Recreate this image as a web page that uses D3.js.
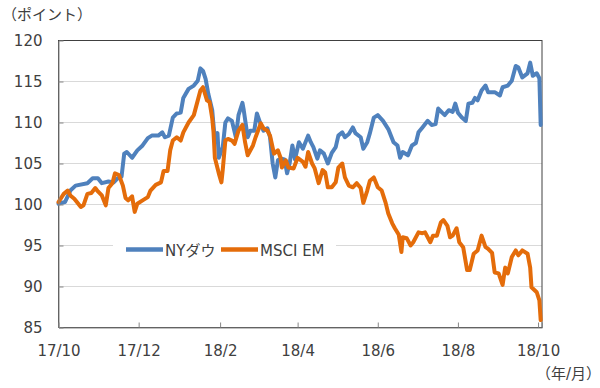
<!DOCTYPE html>
<html>
<head>
  <meta charset="utf-8">
  <title>NYダウ と MSCI EM</title>
  <script src="https://d3js.org/d3.v7.min.js"></script>
  <style>
    body { margin: 0; background: #fff; }
    text { font-family: "DejaVu Sans", "Noto Sans CJK JP", sans-serif; fill: #404040; }
    .grid line { stroke: #d9d9d9; stroke-width: 1px; }
    .series { fill: none; stroke-width: 4px; stroke-linejoin: round; stroke-linecap: round; }
  </style>
</head>
<body>
<script>
  const width = 600;
  const height = 388;

  // index values, 2017/10 start = 100; x given as days after 2017-10-01
  const dowDays = [0, 5, 9, 13, 22, 26, 30, 33, 38, 42, 45, 48, 50, 52, 56, 60, 64, 68, 71, 76,
    79, 81, 84, 87, 90, 93, 95, 99, 103, 106, 108, 110, 112, 114, 117, 119, 121, 122, 125, 127,
    129, 132, 135, 137, 140, 141, 144, 146, 149, 151, 154, 156, 159, 161, 163, 165, 167, 169, 172, 174,
    176, 178, 180, 183, 186, 190, 192, 194, 197, 199, 202, 205, 208, 211, 213, 216, 218, 221, 224, 226,
    230, 232, 235, 237, 240, 243, 247, 251, 255, 258, 260, 262, 266, 269, 272, 274, 277, 281, 284, 287,
    289, 292, 294, 297, 300, 302, 304, 307, 310, 312, 315, 317, 319, 322, 325, 327, 332, 336, 338, 342,
    345, 348, 350, 353, 357, 359, 361, 364, 366, 367];
  const dowValues = [100.1, 100.3, 101.7, 102.3, 102.6, 103.2, 103.2, 102.6, 102.8, 102.7, 103.2, 103.4, 106.2, 106.4, 105.7, 106.6, 107.2, 108.1, 108.4, 108.4,
    108.8, 108.2, 108.4, 110.6, 111.1, 111.2, 113.0, 114.1, 114.5, 115.1, 116.6, 116.3, 115.3, 113.5, 111.5, 107.8, 108.7, 105.7, 107.0, 110.0,
    110.5, 110.2, 108.2, 110.9, 112.4, 111.5, 108.2, 109.0, 109.0, 111.1, 109.7, 109.0, 109.3, 108.2, 105.0, 103.3, 105.4, 105.6, 105.5, 103.8,
    105.1, 107.2, 105.5, 107.6, 106.8, 108.4, 107.6, 107.0, 105.6, 106.6, 106.2, 105.0, 106.3, 107.0, 108.4, 108.8, 108.2, 108.6, 109.4, 108.7,
    108.2, 106.8, 107.6, 108.7, 110.6, 110.9, 110.2, 109.2, 107.6, 107.2, 105.7, 106.4, 106.0, 107.2, 107.5, 108.8, 109.4, 110.2, 109.7, 109.8,
    111.7, 111.2, 110.9, 111.5, 111.3, 112.3, 111.2, 110.6, 110.2, 112.3, 112.4, 113.0, 112.7, 113.9, 114.5, 113.7, 113.7, 113.3, 114.3, 114.5,
    115.1, 116.9, 116.7, 115.5, 116.0, 117.3, 115.7, 116.0, 115.4, 109.7];

  const emDays = [0, 4, 7, 9, 12, 14, 17, 19, 22, 25, 28, 30, 33, 36, 38, 41, 43, 46, 49, 51,
    53, 56, 58, 60, 64, 68, 70, 74, 78, 80, 83, 85, 87, 90, 93, 95, 99, 103, 106, 108,
    110, 113, 115, 117, 118, 119, 122, 124, 125, 127, 129, 132, 134, 137, 140, 142, 144, 148, 150, 154,
    156, 159, 161, 164, 167, 169, 170, 173, 175, 179, 182, 186, 188, 190, 193, 195, 198, 201, 203, 205,
    208, 211, 213, 216, 218, 221, 224, 227, 230, 232, 235, 237, 240, 243, 246, 249, 251, 254, 256, 259,
    261, 262, 265, 268, 270, 274, 277, 279, 283, 285, 288, 291, 293, 296, 298, 300, 303, 305, 308, 311,
    313, 316, 319, 322, 325, 327, 330, 332, 335, 338, 340, 342, 345, 348, 350, 353, 357, 359, 360, 364,
    366, 367];
  const emValues = [100.3, 101.3, 101.7, 101.1, 100.7, 100.3, 99.7, 99.9, 101.3, 101.4, 102.0, 101.6, 101.1, 99.9, 102.0, 102.6, 103.8, 103.6, 102.3, 100.8,
    100.5, 101.0, 99.1, 100.1, 100.5, 100.9, 101.7, 102.4, 102.7, 104.1, 104.1, 106.6, 107.8, 108.2, 107.8, 108.8, 110.0, 110.9, 112.7, 113.9,
    114.3, 112.7, 112.5, 110.5, 108.8, 105.7, 103.8, 102.7, 104.2, 107.8, 108.0, 107.8, 107.4, 109.0, 109.7, 107.6, 106.0, 107.2, 108.2, 109.9,
    109.3, 109.0, 108.4, 106.2, 106.6, 105.7, 104.5, 105.4, 104.5, 104.4, 105.7, 105.2, 104.6, 106.4, 105.0, 104.4, 102.6, 104.2, 103.9, 102.1,
    102.1, 102.7, 104.5, 105.0, 103.3, 102.3, 102.1, 102.6, 102.0, 100.2, 101.7, 102.9, 103.3, 102.1, 101.7, 100.2, 98.9, 97.7, 97.1, 96.3,
    94.2, 96.0, 95.9, 95.0, 95.4, 96.6, 96.5, 96.6, 95.4, 96.2, 96.2, 97.8, 98.1, 97.4, 96.0, 96.2, 97.1, 95.4, 94.8, 92.0,
    92.0, 94.0, 94.4, 96.2, 94.8, 94.6, 94.1, 91.7, 91.6, 90.2, 92.3, 91.6, 93.6, 94.4, 93.8, 94.4, 94.0, 92.3, 89.9, 89.3,
    88.3, 85.9];

  const seriesNames = ["NYダウ", "MSCI EM"];
  const seriesColors = ["#4f81bd", "#e46c0a"];

  const yTicks = [85, 90, 95, 100, 105, 110, 115, 120];
  const xTickDates = ["2017-10-01", "2017-12-01", "2018-02-01", "2018-04-01", "2018-06-01", "2018-08-01", "2018-10-01"];
  const xTickLabels = ["17/10", "17/12", "18/2", "18/4", "18/6", "18/8", "18/10"];

  const startDate = new Date(2017, 9, 1);
  const endDate = d3.timeDay.offset(startDate, 368);
  const parse = d3.timeParse("%Y-%m-%d");

  const svg = d3.select("body")
    .append("svg")
    .attr("width", width)
    .attr("height", height);

  const x = d3.scaleTime().domain([startDate, endDate]).range([58.5, 542]);
  const y = d3.scaleLinear().domain([85, 120]).range([327.5, 40.5]);

  // grid
  svg.append("g")
    .attr("class", "grid")
    .selectAll("line")
    .data(yTicks)
    .join("line")
    .attr("x1", x.range()[0])
    .attr("x2", x.range()[1])
    .attr("y1", d => y(d))
    .attr("y2", d => y(d));

  // plot border (top/right)
  svg.append("rect")
    .attr("x", x.range()[0])
    .attr("y", y.range()[1])
    .attr("width", x.range()[1] - x.range()[0])
    .attr("height", y.range()[0] - y.range()[1])
    .attr("fill", "none")
    .attr("stroke", "#404040")
    .attr("stroke-width", 1);

  // legend background, hides the grid line
  const legend = svg.append("g");
  legend.append("rect")
    .attr("x", 113).attr("y", 236)
    .attr("width", 223).attr("height", 26)
    .attr("fill", "#fff");

  const toPoints = (days, values) => days.map((d, i) => [d3.timeDay.offset(startDate, d), values[i]]);
  const line = d3.line().x(d => x(d[0])).y(d => y(d[1]));

  const series = [toPoints(dowDays, dowValues), toPoints(emDays, emValues)];

  svg.selectAll("path.series")
    .data(series)
    .join("path")
    .attr("class", "series")
    .attr("stroke", (d, i) => seriesColors[i])
    .attr("d", line);

  // axes
  const yAxis = svg.append("g")
    .attr("transform", `translate(${x.range()[0]},0)`)
    .call(d3.axisLeft(y).tickValues(yTicks).tickSize(-5).tickPadding(16));

  const xAxis = svg.append("g")
    .attr("transform", `translate(0,${y.range()[0]})`)
    .call(d3.axisBottom(x)
      .tickValues(xTickDates.map(parse))
      .tickFormat((d, i) => xTickLabels[i])
      .tickSize(-5)
      .tickPadding(18));

  [yAxis, xAxis].forEach(g => {
    g.attr("font-family", null).attr("font-size", null);
    g.select(".domain").attr("stroke", "#868686");
    g.selectAll(".tick line").attr("stroke", "#868686");
    g.selectAll(".tick text").attr("fill", "#404040").style("font-size", "15px");
  });
  yAxis.selectAll(".tick").filter(d => d === 85 || d === 120).select("line").remove();
  xAxis.selectAll(".tick").filter((d, i) => i === 0).select("line").remove();

  // legend items
  const legendItems = [{lx: 126, tx: 165}, {lx: 221, tx: 260}];
  legendItems.forEach((item, i) => {
    legend.append("line")
      .attr("x1", item.lx).attr("x2", item.lx + 37)
      .attr("y1", 249.5).attr("y2", 249.5)
      .attr("stroke", seriesColors[i])
      .attr("stroke-width", 4.5);
    legend.append("text")
      .attr("x", item.tx).attr("y", 255.5)
      .style("font-size", "15px")
      .text(seriesNames[i]);
  });

  // unit labels
  svg.append("text")
    .attr("x", 2).attr("y", 20)
    .style("font-size", "15px")
    .text("（ポイント）");

  svg.append("text")
    .attr("x", 601).attr("y", 379)
    .attr("text-anchor", "end")
    .style("font-size", "15px")
    .text("（年/月）");
</script>
</body>
</html>
